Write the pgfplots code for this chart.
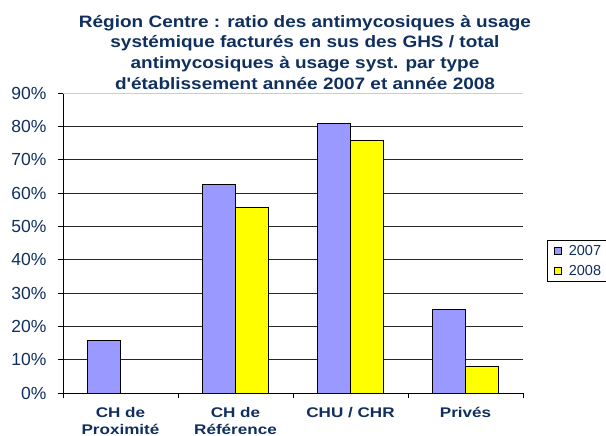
\documentclass[border=0pt]{standalone}
\usepackage{pgfplots}
\pgfplotsset{compat=1.18}
\usepackage{fontspec}
\setmainfont{Liberation Sans}
\newfontfamily\titlef{Liberation Sans}[FakeStretch=1.15]
\newfontfamily\xlabf{Liberation Sans}[FakeStretch=1.22]
\definecolor{txt}{HTML}{0F2F5F}
\definecolor{c07}{HTML}{9999FF}
\definecolor{c08}{HTML}{FFFF00}
\begin{document}
\begin{tikzpicture}[x=1pt,y=1pt]
\useasboundingbox (0,0) rectangle (606,436);
\begin{axis}[
  at={(63pt,43pt)}, anchor=south west,
  scale only axis, width=460pt, height=300pt,
  ybar=0pt, bar width=33pt,
  xmin=-0.5, xmax=3.5, ymin=0, ymax=90,
  axis x line*=bottom, axis y line*=left,
  axis line style={black, line width=0.8pt},
  xtick={0,1,2,3},
  xticklabels={{CH de\\Proximité},{CH de\\Référence},{CHU / CHR},{Privés}},
  x tick label style={align=center, font=\xlabf\fontsize{14}{16.5}\selectfont\bfseries, text=txt, yshift=-6pt},
  major x tick style={draw=none},
  minor xtick={-0.5,0.5,1.5,2.5,3.5},
  minor x tick style={black, line width=0.8pt},
  minor tick length=5pt,
  tick align=outside,
  ytick={0,10,...,80},
  yticklabel={\pgfmathprintnumber{\tick}\%},
  extra y ticks={90}, extra y tick labels={90\%},
  extra y tick style={grid style={black!20, line width=0.8pt}},
  /pgf/number format/assume math mode=true,
  y tick label style={font=\fontsize{17.5}{20}\selectfont, text=txt, xshift=-8pt},
  major y tick style={black, line width=0.8pt},
  major tick length=5pt,
  ymajorgrids, grid style={black!85, line width=0.8pt},
  title={Région Centre : ratio des antimycosiques à usage\\systémique facturés en sus des GHS / total\\antimycosiques à usage syst. par type\\d'établissement année 2007 et année 2008},
  title style={align=center, font=\titlef\fontsize{16.5}{20.7}\selectfont\bfseries, text=txt, xshift=12pt, yshift=-6pt},
  legend style={at={(1.052,0.51)}, anchor=north west, draw=black, line width=0.6pt,
    font=\fontsize{14.5}{17}\selectfont, text=txt, row sep=4pt, inner xsep=7pt, inner ysep=3pt},
  legend image code/.code={\draw[#1, line width=0.6pt] (0pt,-3.5pt) rectangle (7pt,3.5pt);},
]
\addplot[fill=c07, draw=black, line width=0.7pt] coordinates {(0,15.7) (1,62.6) (2,80.9) (3,25.1)};
\addplot[fill=c08, draw=black, line width=0.7pt] coordinates {(1,55.7) (2,75.8) (3,8.1)};
\legend{\hspace{5pt}2007\hspace{6pt},\hspace{5pt}2008\hspace{6pt}}
\end{axis}
\end{tikzpicture}
\end{document}
